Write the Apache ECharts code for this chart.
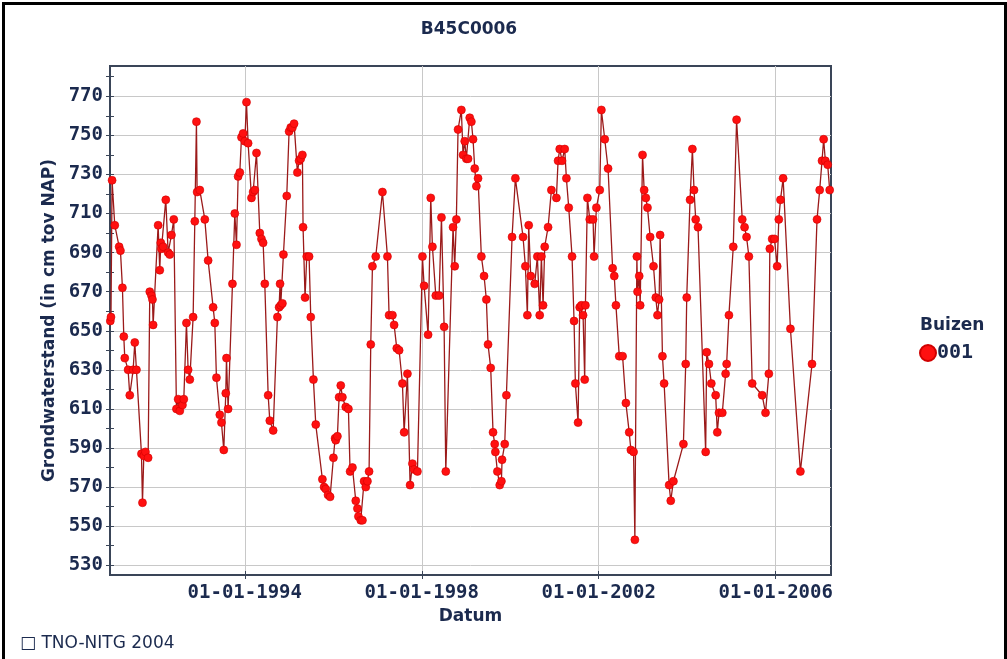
<!DOCTYPE html>
<html>
<head>
<meta charset="utf-8">
<script src="https://cdn.jsdelivr.net/npm/echarts@6/dist/echarts.min.js"></script>
<style>
html,body{margin:0;padding:0;background:#fff;}
#chart{width:1007px;height:659px;}
</style>
</head>
<body>
<div id="chart"></div>
<script>
// ---- data (decimal year, groundwater level in cm tov NAP) ----
const dates = [
  1990.960, 1990.975, 1991.000, 1991.061, 1991.159, 1991.189, 1991.234, 1991.265, 1991.287, 1991.362,
  1991.400, 1991.476, 1991.513, 1991.551, 1991.664, 1991.687, 1991.717, 1991.754, 1991.815, 1991.852,
  1991.890, 1991.913, 1991.928, 1992.041, 1992.078, 1992.101, 1992.116, 1992.154, 1992.214, 1992.267,
  1992.304, 1992.342, 1992.395, 1992.455, 1992.493, 1992.531, 1992.591, 1992.621, 1992.681, 1992.719,
  1992.757, 1992.832, 1992.870, 1992.907, 1992.922, 1992.983, 1993.096, 1993.171, 1993.284, 1993.322,
  1993.359, 1993.435, 1993.472, 1993.525, 1993.570, 1993.586, 1993.623, 1993.721, 1993.774, 1993.812,
  1993.849, 1993.887, 1993.925, 1993.962, 1994.000, 1994.038, 1994.075, 1994.151, 1994.188, 1994.226,
  1994.264, 1994.339, 1994.377, 1994.414, 1994.452, 1994.528, 1994.565, 1994.641,
  1994.737, 1994.775, 1994.797, 1994.812, 1994.850, 1994.873, 1994.948, 1995.001, 1995.038, 1995.076,
  1995.114, 1995.189, 1995.227, 1995.264, 1995.302, 1995.317, 1995.362, 1995.400, 1995.453, 1995.491,
  1995.551, 1995.604, 1995.754, 1995.792, 1995.830, 1995.882, 1995.928, 1996.003, 1996.041, 1996.056,
  1996.093, 1996.131, 1996.169, 1996.206, 1996.282, 1996.342, 1996.380, 1996.433, 1996.508, 1996.546,
  1996.568, 1996.621, 1996.659, 1996.696, 1996.734, 1996.772, 1996.809, 1996.847, 1996.885, 1996.960,
  1997.111, 1997.224, 1997.261, 1997.337, 1997.375, 1997.435, 1997.488, 1997.563, 1997.601, 1997.676,
  1997.736, 1997.789, 1997.827, 1997.902, 1998.015, 1998.053, 1998.143, 1998.203, 1998.241, 1998.317,
  1998.392, 1998.445, 1998.505, 1998.543,
  1998.707, 1998.745, 1998.782, 1998.820, 1998.895, 1998.933, 1998.971, 1999.008, 1999.046, 1999.084,
  1999.121, 1999.159, 1999.197, 1999.234, 1999.272, 1999.347, 1999.408, 1999.460, 1999.498, 1999.558,
  1999.611, 1999.649, 1999.664, 1999.709, 1999.762, 1999.800, 1999.815, 1999.875, 1999.913, 2000.041,
  2000.116, 2000.289, 2000.342, 2000.387, 2000.417, 2000.463, 2000.553, 2000.613, 2000.666, 2000.704,
  2000.742, 2000.779, 2000.855, 2000.930, 2001.043, 2001.081, 2001.118, 2001.171, 2001.231, 2001.269,
  2001.322, 2001.397, 2001.442, 2001.472, 2001.533, 2001.570, 2001.608, 2001.646, 2001.683, 2001.699,
  2001.744, 2001.797, 2001.872, 2001.894, 2001.947, 2002.023, 2002.060, 2002.136, 2002.211,
  2002.314, 2002.351, 2002.389, 2002.464, 2002.539, 2002.614, 2002.689, 2002.727, 2002.787, 2002.817,
  2002.862, 2002.877, 2002.915, 2002.937, 2002.990, 2003.027, 2003.065, 2003.102, 2003.162, 2003.238,
  2003.290, 2003.328, 2003.365, 2003.388, 2003.440, 2003.478, 2003.591, 2003.628, 2003.688, 2003.914,
  2003.966, 2003.989, 2004.064, 2004.117, 2004.154, 2004.192, 2004.244, 2004.417, 2004.440, 2004.492,
  2004.545, 2004.643, 2004.680, 2004.718, 2004.793, 2004.868, 2004.891, 2004.943, 2005.041, 2005.116,
  2005.244, 2005.296, 2005.341, 2005.394, 2005.469, 2005.694, 2005.770, 2005.845, 2005.867, 2005.920,
  2005.972, 2006.033, 2006.070, 2006.108, 2006.168, 2006.333, 2006.558, 2006.821, 2006.934, 2006.994,
  2007.047, 2007.084, 2007.122, 2007.175, 2007.220
];
const levels = [
  655, 657, 727, 704, 693, 691, 672, 647, 636, 630,
  617, 630, 644, 630, 587, 562, 586, 588, 585, 670,
  668, 666, 653, 704, 681, 695, 692, 693, 717, 690,
  689, 699, 707, 610, 615, 609, 612, 615, 654, 630,
  625, 657, 706, 757, 721, 722, 707, 686, 662, 654,
  626, 607, 603, 589, 618, 636, 610, 674, 710, 694,
  729, 731, 749, 751, 747, 767, 746, 718, 721, 722,
  741, 700, 697, 695, 674, 617, 604, 599,
  657, 662, 674, 663, 664, 689, 719, 752, 754, 754,
  756, 731, 737, 738, 740, 703, 667, 688, 688, 657,
  625, 602, 574, 570, 569, 566, 565, 585, 595, 594,
  596, 616, 622, 616, 611, 610, 578, 580, 563, 559,
  555, 553, 553, 573, 570, 573, 578, 643, 683, 688,
  721, 688, 658, 658, 653, 641, 640, 623, 598, 628,
  571, 582, 579, 578, 688, 673, 648, 718, 693, 668,
  668, 708, 652, 578,
  703, 683, 707, 753, 763, 740, 747, 738, 738, 759,
  757, 748, 733, 724, 728, 688, 678, 666, 643, 631,
  598, 592, 588, 578, 571, 573, 584, 592, 617, 698,
  728, 698, 683, 658, 704, 678, 674, 688, 658, 688,
  663, 693, 703, 722, 718, 737, 743, 737, 743, 728,
  713, 688, 655, 623, 603, 662, 663, 658, 625, 663,
  718, 707, 707, 688, 713, 722, 763, 748, 733,
  682, 678, 663, 637, 637, 613, 598, 589, 588, 543,
  688, 670, 678, 663, 740, 722, 718, 713, 698, 683,
  667, 658, 666, 699, 637, 623, 571, 563, 573, 592,
  633, 667, 717, 743, 722, 707, 703, 588, 639, 633,
  623, 617, 598, 608, 608, 628, 633, 658, 693, 758,
  707, 703, 698, 688, 623, 617, 608, 628, 692, 697,
  697, 683, 707, 717, 728, 651, 578, 633, 707, 722,
  737, 748, 737, 735, 722
];
const xTickYears = [1994, 1998, 2002, 2006];
const yTickLabels = [530, 550, 570, 590, 610, 630, 650, 670, 690, 710, 730, 750, 770];
const yMinorTicks = [540, 560, 580, 600, 620, 640, 660, 680, 700, 720, 740, 760, 780];
const yAllTicks = yTickLabels.concat(yMinorTicks);

const chartTitle = 'B45C0006';
const yName = 'Grondwaterstand (in cm tov NAP)';
const xName = 'Datum';
const seriesName = '001';
const legendTitle = 'Buizen';
const footer = '\u25A1 TNO-NITG 2004';

// ---- build ----
const seriesData = dates.map((d, i) => [d, levels[i]]);
const NAVY = '#1b2a4e';
const AXIS = '#3a4558';
const monoBold = {fontFamily: 'DejaVu Sans Mono', fontWeight: 'bold', fontSize: 19, color: NAVY};

const X_MIN = 1990.953, X_MAX = 2007.25;
const Y_MIN = 525, Y_MAX = 785.5;

const chart = echarts.init(document.getElementById('chart'), null, {renderer: 'canvas'});
const yBase = {type: 'value', min: Y_MIN, max: Y_MAX, position: 'left', scale: true};
const xBase = {type: 'value', min: X_MIN, max: X_MAX, position: 'bottom'};

chart.setOption({
  animation: false,
  backgroundColor: '#ffffff',
  title: {
    text: chartTitle, left: 464, top: 16, textAlign: 'center',
    textStyle: {fontFamily: 'DejaVu Sans', fontWeight: 'bold', fontSize: 17, color: NAVY}
  },
  grid: {left: 110, top: 66, right: 176, bottom: 84, show: true,
         borderColor: AXIS, borderWidth: 2, backgroundColor: '#ffffff'},
  legend: {
    left: 919, top: 343, padding: 0, icon: 'circle', itemWidth: 16, itemHeight: 16, itemGap: 4,
    data: [seriesName],
    textStyle: Object.assign({}, monoBold, {fontSize: 20, padding: [0, 0, 0, -4]})
  },
  xAxis: [
    Object.assign({}, xBase, {
      name: xName, nameLocation: 'middle', nameGap: 32,
      nameTextStyle: {fontFamily: 'DejaVu Sans', fontWeight: 'bold', fontSize: 17, color: NAVY},
      axisLine: {show: true, lineStyle: {color: AXIS, width: 2}},
      axisTick: {show: true, length: 4, customValues: xTickYears, lineStyle: {color: AXIS}},
      axisLabel: {customValues: xTickYears, margin: 9,
                  formatter: v => '01-01-' + Math.round(v), ...monoBold},
      splitLine: {show: true, lineStyle: {color: '#c8c8c8', width: 1}}
    }),
    Object.assign({}, xBase, {
      axisLine: {show: false},
      axisTick: {show: true, inside: true, length: 4, customValues: xTickYears, lineStyle: {color: AXIS}},
      axisLabel: {show: false},
      splitLine: {show: false}
    })
  ],
  yAxis: [
    Object.assign({}, yBase, {
      name: yName, nameLocation: 'middle', nameGap: 46, nameRotate: 90,
      nameTextStyle: {fontFamily: 'DejaVu Sans', fontWeight: 'bold', fontSize: 17, color: NAVY},
      axisLine: {show: true, lineStyle: {color: AXIS, width: 2}},
      axisTick: {show: true, length: 4, customValues: yTickLabels, lineStyle: {color: AXIS}},
      axisLabel: {customValues: yTickLabels, margin: 7, ...monoBold},
      splitLine: {show: true, lineStyle: {color: '#c8c8c8', width: 1}}
    }),
    Object.assign({}, yBase, {
      axisLine: {show: false},
      axisTick: {show: true, length: 4, customValues: yMinorTicks, lineStyle: {color: AXIS}},
      axisLabel: {show: false},
      splitLine: {show: false}
    }),
    Object.assign({}, yBase, {
      axisLine: {show: false},
      axisTick: {show: true, inside: true, length: 4, customValues: yAllTicks, lineStyle: {color: AXIS}},
      axisLabel: {show: false},
      splitLine: {show: false}
    })
  ],
  series: [{
    name: seriesName, type: 'line', xAxisIndex: 0, yAxisIndex: 0,
    data: seriesData,
    symbol: 'circle', symbolSize: 8, showAllSymbol: true,
    lineStyle: {color: '#9b1a1a', width: 1.3},
    itemStyle: {color: '#ff1010', borderColor: '#d00000', borderWidth: 0.6},
    z: 5
  }],
  graphic: [
    {type: 'rect', left: 1, top: 1, shape: {width: 1002, height: 700}, silent: true,
     style: {fill: 'none', stroke: '#000', lineWidth: 3}},
    {type: 'text', left: 920, top: 317, silent: true,
     style: {text: legendTitle, fontFamily: 'DejaVu Sans', fontWeight: 'bold', fontSize: 17, fill: NAVY}},
    {type: 'text', left: 20, top: 635, silent: true,
     style: {text: footer, fontFamily: 'DejaVu Sans', fontSize: 17, fill: NAVY}}
  ]
});
</script>
</body>
</html>
